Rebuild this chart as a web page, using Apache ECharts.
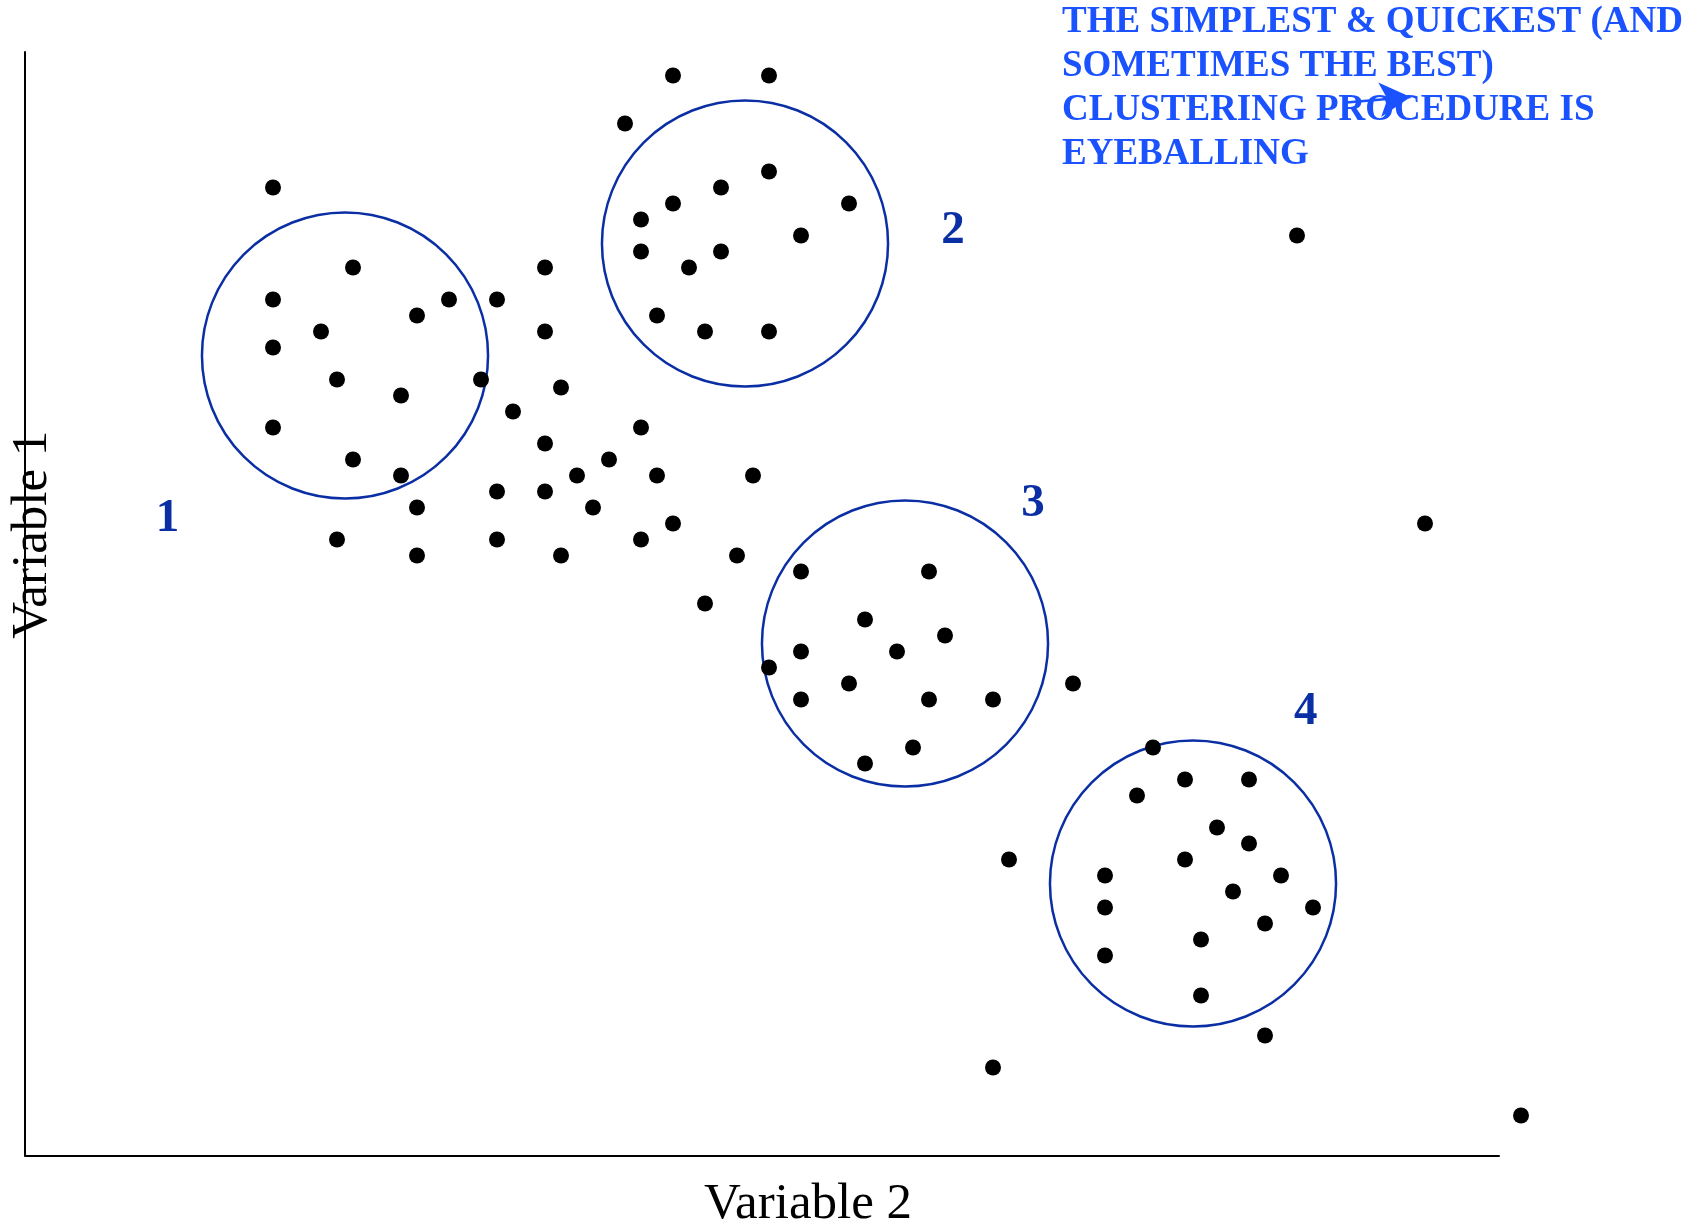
<!DOCTYPE html>
<html>
<head>
<meta charset="utf-8">
<script src="https://cdn.jsdelivr.net/npm/echarts@6/dist/echarts.min.js"></script>
<style>
  html, body { margin: 0; padding: 0; background: #ffffff; }
  #chart { width: 1708px; height: 1225px; }
</style>
</head>
<body>
<div id="chart"></div>
<script>
// ---- data (grid units) ----
const variable2 = [
  15.5, 20.5, 32.5, 15.5, 26.5, 29.5, 24.5, 18.5, 32.5, 15.5,
  19.5, 28.5, 33.5, 23.5, 30.5, 15.5, 38.5, 32.5, 20.5, 36.5,
  23.5, 34.5, 39.5, 45.5, 29.5, 32.5, 24.5, 35.5, 40.5, 19.5,
  29.5, 38.5, 24.5, 33.5, 44.5, 42.5,
  40.5, 46.5, 37.5, 46.5, 43.5, 40.5, 51.5, 38.5, 48.5, 38.5,
  43.5, 41.5, 39.5, 42.5, 46.5, 79.5,
  48.5, 56.5, 52.5, 57.5, 48.5, 54.5, 46.5, 51.5, 48.5, 56.5,
  60.5, 65.5, 55.5, 52.5, 87.5,
  70.5, 72.5, 76.5, 69.5, 74.5, 76.5, 61.5, 72.5, 67.5, 78.5,
  75.5, 67.5, 80.5, 77.5, 73.5, 67.5, 73.5, 77.5, 60.5, 93.5
];
const variable1 = [
  60.5, 55.5, 55.5, 53.5, 53.5, 53.5, 52.5, 51.5, 51.5, 50.5,
  48.5, 48.5, 48.0, 47.5, 46.5, 45.5, 45.5, 44.5, 43.5, 43.5,
  42.5, 42.5, 42.5, 42.5, 41.5, 41.5, 40.5, 40.5, 39.5, 38.5,
  38.5, 38.5, 37.5, 37.5, 37.5, 34.5,
  67.5, 67.5, 64.5, 61.5, 60.5, 59.5, 59.5, 58.5, 57.5, 56.5,
  56.5, 55.5, 52.5, 51.5, 51.5, 57.5,
  36.5, 36.5, 33.5, 32.5, 31.5, 31.5, 30.5, 29.5, 28.5, 28.5,
  28.5, 29.5, 25.5, 24.5, 39.5,
  25.5, 23.5, 23.5, 22.5, 20.5, 19.5, 18.5, 18.5, 17.5, 17.5,
  16.5, 15.5, 15.5, 14.5, 13.5, 12.5, 10.0, 7.5, 5.5, 2.5
];

const clusterNames   = ['1', '2', '3', '4'];
const clusterCentreX = [20, 45, 55, 73];
const clusterCentreY = [50, 57, 32, 17];
const clusterRadius  = [8.94, 8.94, 8.94, 8.94];
const clusterLabelX  = [8.9, 58, 63, 80.05];
const clusterLabelY  = [39.78, 57.8, 40.75, 27.75];

const noteLines = [
  'THE SIMPLEST & QUICKEST (AND',
  'SOMETIMES THE BEST)',
  'CLUSTERING PROCEDURE IS',
  'EYEBALLING'
];
const noteArrowFrom = [82.4, 65.8];
const noteArrowTo   = [86.6, 66.15];

const xAxisName = 'Variable 2';
const yAxisName = 'Variable 1';

// ---- build chart ----
const NAVY = '#0a2ea3';
const BLUE = '#1a52ff';
const SERIF = '"Liberation Serif", "DejaVu Serif", serif';

const dots = variable2.map((x, i) => [x, variable1[i]]);
const circles = clusterCentreX.map((x, i) => [x, clusterCentreY[i], clusterRadius[i]]);
const labels = clusterNames.map((n, i) => ({ value: [clusterLabelX[i], clusterLabelY[i]], name: n }));

const chart = echarts.init(document.getElementById('chart'), null, { renderer: 'canvas' });
chart.setOption({
  backgroundColor: '#ffffff',
  animation: false,
  title: {
    text: noteLines.join('\n'),
    left: 1062,
    top: 0,
    padding: 0,
    textStyle: {
      fontFamily: SERIF,
      fontWeight: 'bold',
      fontSize: 37,
      lineHeight: 44,
      color: BLUE
    }
  },
  grid: { left: 25, right: 209, top: 52, bottom: 69.5, containLabel: false, outerBoundsMode: 'none' },
  xAxis: {
    type: 'value',
    min: 0,
    max: 92.125,
    name: xAxisName,
    nameLocation: 'middle',
    nameGap: 24,
    nameTextStyle: { fontFamily: SERIF, fontSize: 51, color: '#000', padding: [0, 0, 0, 92] },
    axisLine: { show: true, onZero: false, lineStyle: { color: '#000', width: 2 } },
    axisTick: { show: false },
    axisLabel: { show: false },
    splitLine: { show: false }
  },
  yAxis: {
    type: 'value',
    min: 0,
    max: 68.97,
    name: yAxisName,
    nameLocation: 'middle',
    nameGap: -33,
    nameTextStyle: { fontFamily: SERIF, fontSize: 51, color: '#000', padding: [0, 0, 0, 138] },
    axisLine: { show: true, onZero: false, lineStyle: { color: '#000', width: 2 } },
    axisTick: { show: false },
    axisLabel: { show: false },
    splitLine: { show: false }
  },
  series: [
    {
      type: 'custom',
      name: 'clusters',
      data: circles,
      clip: false,
      renderItem: function (params, api) {
        const c = api.coord([api.value(0), api.value(1)]);
        const s = api.size([api.value(2), api.value(2)]);
        return {
          type: 'circle',
          shape: { cx: c[0], cy: c[1], r: s[0] },
          style: { fill: null, stroke: NAVY, lineWidth: 2.5 }
        };
      }
    },
    {
      type: 'scatter',
      name: 'observations',
      data: dots,
      symbol: 'circle',
      symbolSize: 16,
      clip: false,
      itemStyle: { color: '#000', opacity: 1 },
      z: 5
    },
    {
      type: 'scatter',
      name: 'cluster labels',
      data: labels,
      symbolSize: 1,
      itemStyle: { color: 'rgba(0,0,0,0)', opacity: 1 },
      label: {
        show: true,
        position: 'inside',
        formatter: '{b}',
        fontFamily: SERIF,
        fontWeight: 'bold',
        fontSize: 47,
        color: NAVY,
        opacity: 1
      },
      z: 6
    },
    {
      type: 'line',
      name: 'note arrow',
      data: [],
      markLine: {
        silent: true,
        symbol: ['none', 'arrow'],
        symbolSize: [26, 31],
        label: { show: false },
        lineStyle: { color: BLUE, width: 2.5, type: 'solid', opacity: 1 },
        itemStyle: { color: BLUE },
        data: [[{ coord: noteArrowFrom }, { coord: noteArrowTo }]]
      }
    }
  ]
});
</script>
</body>
</html>
